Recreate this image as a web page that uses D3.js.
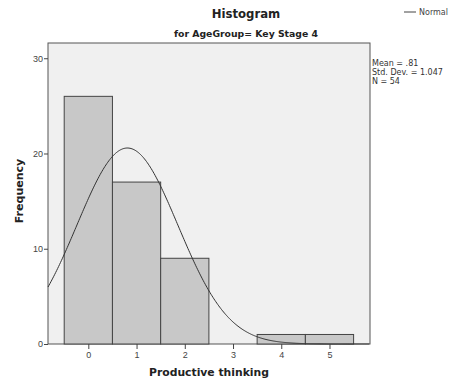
<!DOCTYPE html>
<html><head><meta charset="utf-8">
<script src="https://cdn.jsdelivr.net/npm/d3@7/dist/d3.min.js"></script>
<style>body{margin:0;background:#fff}svg{display:block;font-family:"DejaVu Sans",sans-serif}</style>
</head><body><svg id="c" width="449" height="380"></svg>
<script>
const binCenters = [0, 1, 2, 3, 4, 5];
const frequencies = [26, 17, 9, 0, 1, 1];
const xTicks = [0, 1, 2, 3, 4, 5];
const yTicks = [0, 10, 20, 30];
const statMean = 0.81;
const statSD = 1.047;
const statN = 54;
const statLabels = ["Mean = .81", "Std. Dev. = 1.047", "N = 54"];

const svg = d3.select("#c");
const L = 48, R = 370, T = 43, B = 344;
const x = d3.scaleLinear().domain([-0.836, 5.84]).range([L, R]);
const y = d3.scaleLinear().domain([0, 31.6]).range([B, T]);

svg.append("rect").attr("x", L).attr("y", T).attr("width", R - L).attr("height", B - T)
  .attr("fill", "#f0f0f0").attr("stroke", "#555").attr("stroke-width", 1);

svg.append("g").selectAll("rect").data(binCenters.map((c, i) => ({c, f: frequencies[i]})).filter(d => d.f > 0))
  .enter().append("rect")
  .attr("x", d => x(d.c - 0.5)).attr("y", d => y(d.f))
  .attr("width", d => x(d.c + 0.5) - x(d.c - 0.5)).attr("height", d => y(0) - y(d.f))
  .attr("fill", "#c8c8c8").attr("stroke", "#444").attr("stroke-width", 1);

// normal curve from reported mean/SD/N (bin width 1)
const xs = d3.range(-0.836, 5.84, 0.02);
const pdf = v => statN * Math.exp(-0.5 * ((v - statMean) / statSD) ** 2) / (statSD * Math.sqrt(2 * Math.PI));
svg.append("path").datum(xs).attr("fill", "none").attr("stroke", "#333").attr("stroke-width", 1)
  .attr("d", d3.line().x(v => x(v)).y(v => y(pdf(v))));

const xa = svg.append("g").attr("transform", `translate(0,${B})`)
  .call(d3.axisBottom(x).tickValues(xTicks).tickSize(5).tickPadding(3).tickFormat(d3.format("d")));
const ya = svg.append("g").attr("transform", `translate(${L},0)`)
  .call(d3.axisLeft(y).tickValues(yTicks).tickSize(4).tickPadding(1).tickFormat(d3.format("d")));
[xa, ya].forEach(a => {
  a.select(".domain").remove();
  a.selectAll("line").attr("stroke", "#444");
  a.selectAll("text").attr("fill", "#444").style("font-size", "9px");
});

svg.append("text").attr("x", 246).attr("y", 18).attr("text-anchor", "middle")
  .style("font-size", "11.7px").style("font-weight", "bold").attr("fill", "#222").text("Histogram");
svg.append("text").attr("x", 246).attr("y", 37).attr("text-anchor", "middle")
  .style("font-size", "9.3px").style("font-weight", "bold").attr("fill", "#222").text("for AgeGroup= Key Stage 4");

svg.append("line").attr("x1", 404).attr("x2", 416).attr("y1", 12).attr("y2", 12).attr("stroke", "#444");
svg.append("text").attr("x", 419).attr("y", 15).style("font-size", "8px").attr("fill", "#444").text("Normal");

svg.append("g").selectAll("text").data(statLabels).enter().append("text")
  .attr("x", 372).attr("y", (d, i) => 66 + i * 9).style("font-size", "8px").attr("fill", "#333").text(d => d);

svg.append("text").attr("transform", "translate(23,191) rotate(-90)").attr("text-anchor", "middle")
  .style("font-size", "11px").style("font-weight", "bold").attr("fill", "#222").text("Frequency");
svg.append("text").attr("x", 209).attr("y", 376).attr("text-anchor", "middle")
  .style("font-size", "10.8px").style("font-weight", "bold").attr("fill", "#222").text("Productive thinking");
</script></body></html>
